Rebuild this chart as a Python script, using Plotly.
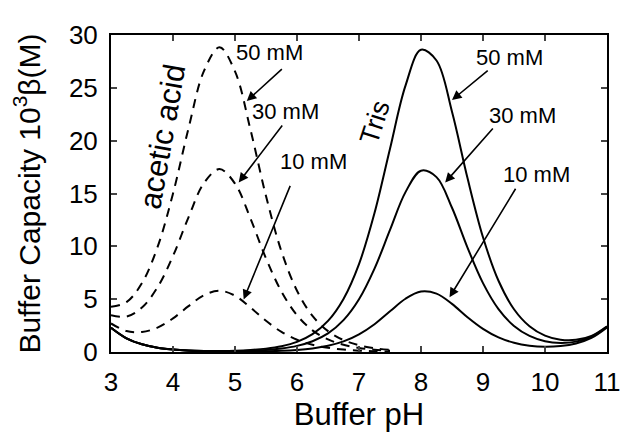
import plotly.graph_objects as go

# pH grid (Buffer pH)
ph_acetic = [3.0, 3.25, 3.5, 3.75, 4.0, 4.25, 4.5, 4.75, 5.0, 5.25, 5.5, 5.75,
             6.0, 6.25, 6.5, 6.75, 7.0, 7.25, 7.5]
acetic_50 = [4.28, 4.72, 6.53, 9.92, 14.99, 21.16, 26.60, 28.83, 26.55, 21.03, 14.76, 9.51,
             5.80, 3.42, 1.98, 1.13, 0.64, 0.36, 0.20]
acetic_30 = [3.49, 3.35, 4.21, 6.12, 9.09, 12.75, 15.99, 17.31, 15.94, 12.62, 8.86, 5.71,
             3.48, 2.05, 1.19, 0.68, 0.38, 0.22, 0.12]
acetic_10 = [2.70, 1.98, 1.89, 2.31, 3.18, 4.34, 5.38, 5.80, 5.33, 4.21, 2.95, 1.90,
             1.16, 0.68, 0.40, 0.23, 0.13, 0.07, 0.04]

ph_tris = [3.0, 3.25, 3.5, 3.75, 4.0, 4.25, 4.5, 4.75, 5.0, 5.25, 5.5, 5.75,
           6.0, 6.25, 6.5, 6.75, 7.0, 7.25, 7.5, 7.75, 8.0, 8.25, 8.5, 8.75,
           9.0, 9.25, 9.5, 9.75, 10.0, 10.25, 10.5, 10.75, 11.0]
tris_50 = [2.30, 1.30, 0.73, 0.41, 0.24, 0.15, 0.10, 0.10, 0.12, 0.19, 0.32, 0.55,
           0.96, 1.69, 2.94, 5.02, 8.32, 13.15, 19.24, 25.21, 28.60, 27.59, 22.74, 16.46,
           10.86, 6.74, 4.05, 2.44, 1.55, 1.16, 1.15, 1.53, 2.44]
tris_30 = [2.30, 1.30, 0.73, 0.41, 0.24, 0.14, 0.09, 0.07, 0.08, 0.12, 0.19, 0.33,
           0.58, 1.02, 1.76, 3.01, 4.99, 7.89, 11.55, 15.13, 17.16, 16.55, 13.65, 9.88,
           6.52, 4.06, 2.46, 1.52, 1.02, 0.86, 0.98, 1.44, 2.38]
tris_10 = [2.30, 1.30, 0.73, 0.41, 0.23, 0.13, 0.08, 0.05, 0.04, 0.05, 0.07, 0.11,
           0.19, 0.34, 0.59, 1.00, 1.67, 2.63, 3.85, 5.04, 5.72, 5.52, 4.55, 3.29,
           2.19, 1.38, 0.87, 0.59, 0.49, 0.56, 0.81, 1.34, 2.33]

x_ticks = [3, 4, 5, 6, 7, 8, 9, 10, 11]
y_ticks = [0, 5, 10, 15, 20, 25, 30]

# labels: (text, text_x, text_y, tail_x, tail_y, head_x, head_y)
acetic_labels = [("50 mM", 5.56, 28.3, 5.78, 26.9, 5.19, 23.75),
                 ("30 mM", 5.82, 22.75, 5.78, 21.57, 5.06, 16.04),
                 ("10 mM", 6.26, 18.04, 5.90, 15.86, 5.14, 4.98)]
tris_labels = [("50 mM", 9.43, 27.9, 9.10, 26.74, 8.50, 23.84),
               ("30 mM", 9.64, 22.4, 9.18, 21.3, 8.39, 16.04),
               ("10 mM", 9.86, 16.77, 9.54, 15.59, 8.46, 5.17)]

FONT = "Liberation Sans, Arial, Helvetica, sans-serif"

fig = go.Figure()
for ys in (acetic_50, acetic_30, acetic_10):
    fig.add_trace(go.Scatter(x=ph_acetic, y=ys, mode="lines",
                             line=dict(color="black", width=2, dash="9px,7px", shape="spline"),
                             showlegend=False, hoverinfo="skip"))
for ys in (tris_50, tris_30, tris_10):
    fig.add_trace(go.Scatter(x=ph_tris, y=ys, mode="lines",
                             line=dict(color="black", width=2, shape="spline"),
                             showlegend=False, hoverinfo="skip"))

annotations = []
for (t, tx, ty, ax, ay, hx, hy) in acetic_labels + tris_labels:
    annotations.append(dict(x=tx, y=ty, xref="x", yref="y", text=t, showarrow=False,
                            font=dict(family=FONT, size=22, color="black")))
    annotations.append(dict(x=hx, y=hy, ax=ax, ay=ay, xref="x", yref="y",
                            axref="x", ayref="y", text="", showarrow=True,
                            arrowhead=2, arrowsize=1.2, arrowwidth=1.6, arrowcolor="black"))
annotations.append(dict(x=3.83, y=20.4, xref="x", yref="y", text="acetic acid",
                        showarrow=False, textangle=-80,
                        font=dict(family=FONT, size=31, color="black")))
annotations.append(dict(x=7.26, y=21.75, xref="x", yref="y", text="Tris",
                        showarrow=False, textangle=-72,
                        font=dict(family=FONT, size=27, color="black")))

# page body has an 8px margin, so the figure is 8px smaller than the window
fig.update_layout(
    width=625, height=425,
    margin=dict(l=103, r=22, t=21, b=73),
    paper_bgcolor="white", plot_bgcolor="white",
    font=dict(family=FONT, size=26, color="black"),
    annotations=annotations,
    xaxis=dict(range=[3, 11], tickvals=x_ticks, ticks="inside", ticklen=6, tickwidth=1.5,
               showline=True, linecolor="black", linewidth=2, mirror="ticks",
               showgrid=False, zeroline=False, ticklabelstandoff=6,
               title=dict(text="Buffer pH", standoff=2, font=dict(size=31)),
               tickfont=dict(size=26)),
    yaxis=dict(range=[0, 30], tickvals=y_ticks, ticks="inside", ticklen=6, tickwidth=1.5,
               showline=True, linecolor="black", linewidth=2, mirror="ticks",
               showgrid=False, zeroline=False, ticklabelstandoff=6,
               title=dict(text="Buffer Capacity 10<sup>3</sup>β(M)", standoff=22,
                          font=dict(size=30)),
               tickfont=dict(size=26)),
)

fig.write_html("out.html")
